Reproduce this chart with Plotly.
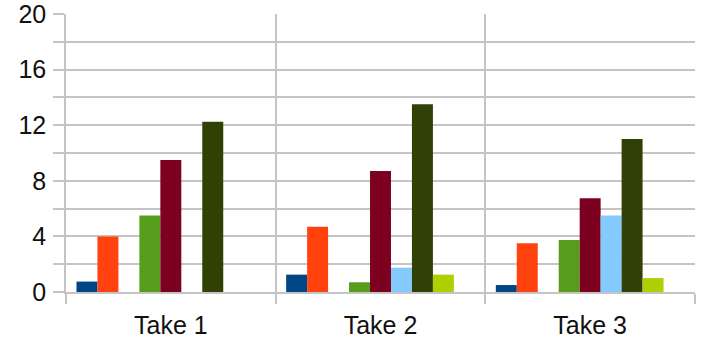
import plotly.graph_objects as go

# Categories and one list of values per series (9 series, LibreOffice default palette)
takes = ["Take 1", "Take 2", "Take 3"]
series_names = ["S1", "S2", "S3", "S4", "S5", "S6", "S7", "S8", "S9"]
s1 = [0.75, 1.25, 0.5]
s2 = [4.0, 4.7, 3.5]
s3 = [0.0, 0.0, 0.0]
s4 = [5.5, 0.7, 3.75]
s5 = [9.5, 8.7, 6.75]
s6 = [0.0, 1.75, 5.5]
s7 = [12.25, 13.5, 11.0]
s8 = [0.0, 1.25, 1.0]
s9 = [0.0, 0.0, 0.0]
all_series = [s1, s2, s3, s4, s5, s6, s7, s8, s9]

colors = ["#004586", "#ff420e", "#ffd320", "#579d1c", "#7e0021",
          "#83caff", "#314004", "#aecf00", "#c5000b"]

y_ticks = [0, 4, 8, 12, 16, 20]

fig = go.Figure()
for name, vals, col in zip(series_names, all_series, colors):
    fig.add_trace(go.Bar(x=takes, y=vals, name=name,
                         marker=dict(color=col, line=dict(width=0))))

grid = "#c4c4c4"
font = dict(family="Liberation Sans, Arial, sans-serif", size=25, color="#111111")

fig.update_layout(
    width=712, height=347,
    margin=dict(l=66, r=17, t=14, b=55),
    paper_bgcolor="white", plot_bgcolor="white",
    barmode="group", bargap=0.1, bargroupgap=0,
    showlegend=False,
    font=font,
)
fig.update_yaxes(
    range=[0, 20], tickvals=y_ticks, ticktext=[str(v) for v in y_ticks],
    ticks="outside", ticklen=11, tickcolor=grid, tickwidth=1.5,
    showgrid=True, gridcolor=grid, gridwidth=1.5,
    minor=dict(dtick=2, tick0=0, ticks="outside", ticklen=11, tickcolor=grid,
               tickwidth=1.5, showgrid=True, gridcolor=grid, gridwidth=1.5),
    showline=True, linecolor=grid, linewidth=1.5,
    zeroline=False, ticklabelstandoff=2, tickfont=font, automargin=False,
    ticklabeloverflow="allow",
)
fig.update_xaxes(
    type="category", tickson="boundaries",
    ticks="outside", ticklen=10, tickcolor=grid, tickwidth=1.5,
    showgrid=True, gridcolor=grid, gridwidth=1.5,
    showline=True, linecolor=grid, linewidth=1.5,
    tickfont=font, ticklabelstandoff=10, automargin=False,
    ticklabeloverflow="allow",
)

fig.write_html("out.html")
